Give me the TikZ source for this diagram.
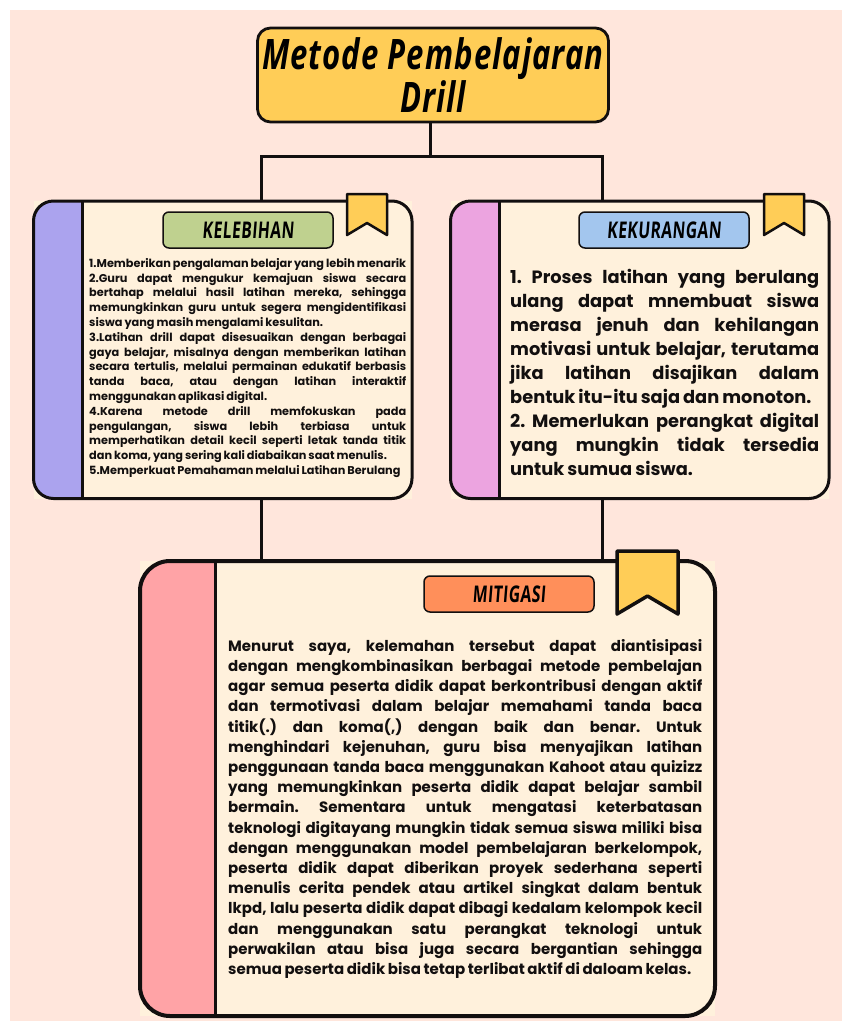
\documentclass[tikz,border=0pt]{standalone}
\usepackage{fontspec}
\setmainfont[WordSpace=0.8]{Poppins}
\newfontfamily\titlefont[FakeStretch=0.74,LetterSpace=2.5]{Open Sans}
\newfontfamily\tagfont[FakeStretch=0.68,FakeSlant=0.08,LetterSpace=2]{Open Sans}
\usetikzlibrary{positioning}
\usetikzlibrary{backgrounds}
\hyphenpenalty=10000

\definecolor{page_col}{HTML}{FFE6DC}
\definecolor{gold_col}{HTML}{FFCD57}
\definecolor{card_col}{HTML}{FFF1DC}
\definecolor{purple_col}{HTML}{ABA3EE}
\definecolor{pink_col}{HTML}{ECA4E0}
\definecolor{red_col}{HTML}{FFA3A6}
\definecolor{green_col}{HTML}{BFD18F}
\definecolor{blue_col}{HTML}{A3C6EE}
\definecolor{orange_col}{HTML}{FF8F5A}
\definecolor{ink_col}{HTML}{120F0F}

\begin{document}
\begin{tikzpicture}[x=1pt, y=-1pt]

\tikzstyle{title_style} = [draw=ink_col, fill=gold_col, line width=2.8, rounded corners=13, inner sep=0pt, outer sep=0pt, align=center, font=\titlefont\bfseries\itshape\fontsize{42}{41}\selectfont, anchor=north west, minimum width=351, minimum height=94]
\tikzstyle{card_style} = [fill=card_col, anchor=north west, inner sep=0pt, outer sep=0pt, minimum width=378.5, minimum height=297.5]
\tikzstyle{border_style} = [draw=ink_col, line width=3, rounded corners=20]
\tikzstyle{tag_style} = [draw=ink_col, line width=1.5, rounded corners=6, anchor=north west, inner sep=0pt, outer sep=0pt, minimum width=170, minimum height=36, font=\tagfont\bfseries\fontsize{23}{26}\selectfont]
\tikzstyle{mark_style} = [draw=ink_col, fill=gold_col, line width=2.5, line join=round]
\tikzstyle{edge_style} = [draw=ink_col, line width=3]
\tikzstyle{small_text} = [anchor=north west, inner sep=0pt, align=justify, text=ink_col, text width=317, font=\frenchspacing\bfseries\fontsize{11.3}{14.8}\selectfont]
\tikzstyle{big_text} = [anchor=north west, inner sep=0pt, align=justify, text=ink_col, text width=309, font=\frenchspacing\bfseries\fontsize{17.8}{24}\selectfont]
\tikzstyle{mid_text} = [anchor=north west, inner sep=0pt, align=justify, text=ink_col, text width=474, font=\frenchspacing\bfseries\fontsize{15}{20.2}\selectfont]

\fill[page_col] (10,10) rectangle (842,1021);
\useasboundingbox (0,0) rectangle (842,1021);

\node[title_style] (title) at (257.5,28) {Metode Pembelajaran\\Drill};

\node[card_style] (kelebihan) at (33.5,201) {};
\node[card_style] (kekurangan) at (450.5,201) {};
\node[card_style, minimum width=575, minimum height=455] (mitigasi) at (140,561) {};

% side strips
\begin{scope}
\clip[rounded corners=20] (kelebihan.north west) rectangle (kelebihan.south east);
\fill[purple_col] (kelebihan.north west) rectangle (82,500);
\end{scope}
\begin{scope}
\clip[rounded corners=20] (kekurangan.north west) rectangle (kekurangan.south east);
\fill[pink_col] (kekurangan.north west) rectangle (499,500);
\end{scope}
\begin{scope}
\clip[rounded corners=30] (mitigasi.north west) rectangle (mitigasi.south east);
\fill[red_col] (mitigasi.north west) rectangle (215,1017);
\end{scope}
\draw[edge_style] (82,201) -- (82,498.5);
\draw[edge_style] (499,201) -- (499,498.5);
\draw[edge_style] (215,561) -- (215,1016);
\draw[border_style] (kelebihan.north west) rectangle (kelebihan.south east);
\draw[border_style] (kekurangan.north west) rectangle (kekurangan.south east);
\draw[border_style, line width=4, rounded corners=30] (mitigasi.north west) rectangle (mitigasi.south east);

% connectors
\coordinate (trunk) at (430,156);
\coordinate (left_end) at (261,156);
\coordinate (right_end) at (602,156);
\draw[edge_style] (title.south -| trunk) -- (trunk);
\draw[edge_style] (kelebihan.north -| left_end) -- (left_end) -- (right_end) -- (kekurangan.north -| right_end);
\draw[edge_style] (kelebihan.south -| left_end) -- (mitigasi.north -| left_end);
\draw[edge_style] (kekurangan.south -| right_end) -- (mitigasi.north -| right_end);

% labels
\node[tag_style, fill=green_col] (tag_kelebihan) at (163,212) {KELEBIHAN};
\node[tag_style, fill=blue_col] (tag_kekurangan) at (579,212) {KEKURANGAN};
\node[tag_style, fill=orange_col] (tag_mitigasi) at (424,576) {MITIGASI};

% bookmarks
\draw[mark_style] (347,194) -- (387,194) -- (387,235) -- (367,223) -- (347,235) -- cycle;
\draw[mark_style] (764,194) -- (804,194) -- (804,235) -- (784,223) -- (764,235) -- cycle;
\draw[mark_style, line width=3.5] (617,551) -- (678,551) -- (678,614) -- (647.5,596) -- (617,614) -- cycle;

% texts
\node[small_text] (text_kelebihan) at (89,258) {1.Memberikan pengalaman belajar yang lebih menarik\linebreak
2.Guru dapat mengukur kemajuan siswa secara\linebreak
bertahap melalui hasil latihan mereka, sehingga\linebreak
memungkinkan guru untuk segera mengidentifikasi\linebreak
siswa yang masih mengalami kesulitan.\\
3.Latihan drill dapat disesuaikan dengan berbagai\linebreak
gaya belajar, misalnya dengan memberikan latihan\linebreak
secara tertulis, melalui permainan edukatif berbasis\linebreak
tanda baca, atau dengan latihan interaktif\linebreak
menggunakan aplikasi digital.\\
4.Karena metode drill memfokuskan pada\linebreak
pengulangan, siswa lebih terbiasa untuk\linebreak
memperhatikan detail kecil seperti letak tanda titik\linebreak
dan koma, yang sering kali diabaikan saat menulis.\\
5.Memperkuat Pemahaman melalui Latihan Berulang};

\node[big_text] (text_kekurangan) at (510,269) {1. Proses latihan yang berulang\linebreak
ulang dapat mnembuat siswa\linebreak
merasa jenuh dan kehilangan\linebreak
motivasi untuk belajar, terutama\linebreak
jika latihan disajikan dalam\linebreak
bentuk itu-itu saja dan monoton.\\
2. Memerlukan perangkat digital\linebreak
yang mungkin tidak tersedia\linebreak
untuk sumua siswa.};

\node[mid_text] (text_mitigasi) at (228,639) {Menurut saya, kelemahan tersebut dapat diantisipasi\linebreak
dengan mengkombinasikan berbagai metode pembelajan\linebreak
agar semua peserta didik dapat berkontribusi dengan aktif\linebreak
dan termotivasi dalam belajar memahami tanda baca\linebreak
titik(.) dan koma(,) dengan baik dan benar. Untuk\linebreak
menghindari kejenuhan, guru bisa menyajikan latihan\linebreak
penggunaan tanda baca menggunakan Kahoot atau quizizz\linebreak
yang memungkinkan peserta didik dapat belajar sambil\linebreak
bermain. Sementara untuk mengatasi keterbatasan\linebreak
teknologi digitayang mungkin tidak semua siswa miliki bisa\linebreak
dengan menggunakan model pembelajaran berkelompok,\linebreak
peserta didik dapat diberikan proyek sederhana seperti\linebreak
menulis cerita pendek atau artikel singkat dalam bentuk\linebreak
lkpd, lalu peserta didik dapat dibagi kedalam kelompok kecil\linebreak
dan menggunakan satu perangkat teknologi untuk\linebreak
perwakilan atau bisa juga secara bergantian sehingga\linebreak
semua peserta didik bisa tetap terlibat aktif di daloam kelas.};

\end{tikzpicture}
\end{document}
